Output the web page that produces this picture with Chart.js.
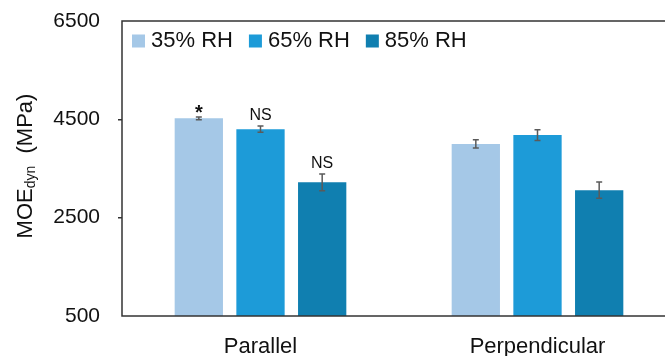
<!DOCTYPE html>
<html>
<head>
<meta charset="utf-8">
<script src="https://cdn.jsdelivr.net/npm/chart.js@4/dist/chart.umd.min.js"></script>
<style>
  html, body { margin: 0; padding: 0; overflow: hidden; background: #fff; }
  #wrap { width: 690px; height: 356px; }
</style>
</head>
<body>
<div id="wrap"><canvas id="c" width="690" height="356"></canvas></div>
<script>
// Dynamic modulus of elasticity by grain direction and relative humidity
const categories = ['Parallel', 'Perpendicular'];
const seriesNames = ['35% RH', '65% RH', '85% RH'];
const rh35 = [4520, 4000];
const rh65 = [4300, 4180];
const rh85 = [3220, 3060];
const sd35 = [30, 85];
const sd65 = [65, 110];
const sd85 = [170, 165];
const sig35 = ['*', ''];
const sig65 = ['NS', ''];
const sig85 = ['NS', ''];
const yTicks = [500, 2500, 4500, 6500];

const colors = ['#A5C8E7', '#1D9BD8', '#107FB0'];
const FONT = '"Liberation Sans", Arial, sans-serif';
const errors = [sd35, sd65, sd85];
const marks = [sig35, sig65, sig85];

// Frame around the plot area
const framePlugin = {
  id: 'frame',
  afterDraw(chart) {
    const { ctx, chartArea: a } = chart;
    ctx.save();
    ctx.strokeStyle = '#333';
    ctx.lineWidth = 1.5;
    ctx.strokeRect(a.left, a.top, a.right - a.left, a.bottom - a.top);
    ctx.restore();
  }
};

// Standard-deviation whiskers and significance marks
const errorPlugin = {
  id: 'errorBars',
  afterDatasetsDraw(chart) {
    const { ctx } = chart;
    const y = chart.scales.y;
    ctx.save();
    chart.data.datasets.forEach((ds, i) => {
      const meta = chart.getDatasetMeta(i);
      meta.data.forEach((bar, j) => {
        const v = ds.data[j], e = errors[i][j];
        const top = y.getPixelForValue(v + e);
        const bot = y.getPixelForValue(v - e);
        const x = bar.x;
        ctx.strokeStyle = '#5a5a5a';
        ctx.lineWidth = 1.5;
        ctx.beginPath();
        ctx.moveTo(x, top); ctx.lineTo(x, bot);
        ctx.moveTo(x - 3, top); ctx.lineTo(x + 3, top);
        ctx.moveTo(x - 3, bot); ctx.lineTo(x + 3, bot);
        ctx.stroke();
        const m = marks[i][j];
        if (m) {
          ctx.fillStyle = '#111';
          ctx.textAlign = 'center';
          ctx.textBaseline = 'alphabetic';
          if (m === '*') {
            ctx.font = 'bold 20px ' + FONT;
            ctx.fillText(m, x, top + 2);
          } else {
            ctx.font = '16px ' + FONT;
            ctx.fillText(m, x, top - 5.5);
          }
        }
      });
    });
    ctx.restore();
  }
};

// Legend drawn inside the plot area, top-left
const legendPlugin = {
  id: 'innerLegend',
  afterDraw(chart) {
    const { ctx, chartArea: a } = chart;
    ctx.save();
    ctx.font = '22px ' + FONT;
    ctx.textBaseline = 'middle';
    ctx.textAlign = 'left';
    let x = a.left + 10;
    const yc = 41;
    chart.data.datasets.forEach((ds) => {
      ctx.fillStyle = ds.backgroundColor;
      ctx.fillRect(x, yc - 6.5, 13, 13);
      ctx.fillStyle = '#111';
      ctx.fillText(ds.label, x + 19, yc);
      x += 19 + ctx.measureText(ds.label).width + 16;
    });
    ctx.restore();
  }
};

// Rotated y-axis title with a subscript
const yTitlePlugin = {
  id: 'yTitle',
  afterDraw(chart) {
    const { ctx } = chart;
    const big = '22px ' + FONT, small = '14px ' + FONT;
    const parts = [['MOE', big, 0], ['dyn', small, 3], ['  (MPa)', big, 0]];
    ctx.save();
    let total = 0;
    parts.forEach(p => { ctx.font = p[1]; p.push(ctx.measureText(p[0]).width); total += p[3]; });
    ctx.translate(32, 166);
    ctx.rotate(-Math.PI / 2);
    ctx.fillStyle = '#111';
    ctx.textBaseline = 'alphabetic';
    ctx.textAlign = 'left';
    let x = -total / 2;
    parts.forEach(p => { ctx.font = p[1]; ctx.fillText(p[0], x, p[2]); x += p[3]; });
    ctx.restore();
  }
};

new Chart(document.getElementById('c'), {
  type: 'bar',
  data: {
    labels: categories,
    datasets: [rh35, rh65, rh85].map((d, i) => ({
      label: seriesNames[i],
      data: d,
      backgroundColor: colors[i],
      borderWidth: 0,
      categoryPercentage: 0.668,
      barPercentage: 0.783
    }))
  },
  options: {
    responsive: false,
    animation: false,
    layout: { padding: { left: 0, top: 21, right: 14, bottom: 0 } },
    plugins: { legend: { display: false }, tooltip: { enabled: false } },
    scales: {
      x: {
        grid: { display: false, drawTicks: false },
        border: { display: false },
        ticks: { color: '#111', font: { family: FONT, size: 22 }, padding: 18 },
        afterFit(s) { s.height = 40; }
      },
      y: {
        min: yTicks[0],
        max: yTicks[yTicks.length - 1],
        afterBuildTicks(s) { s.ticks = yTicks.map(v => ({ value: v })); },
        grid: {
          drawOnChartArea: false,
          tickLength: 4,
          color: (c) => (c.index === 0 || c.index === yTicks.length - 1) ? 'rgba(0,0,0,0)' : '#333',
          lineWidth: 1.5
        },
        border: { display: false },
        ticks: {
          color: '#111',
          font: { family: FONT, size: 21 },
          padding: 18,
          callback: (v) => String(v)
        },
        afterFit(s) { s.width = 122; s.paddingTop = 0; s.paddingBottom = 0; }
      }
    }
  },
  plugins: [framePlugin, errorPlugin, legendPlugin, yTitlePlugin]
});
</script>
</body>
</html>
